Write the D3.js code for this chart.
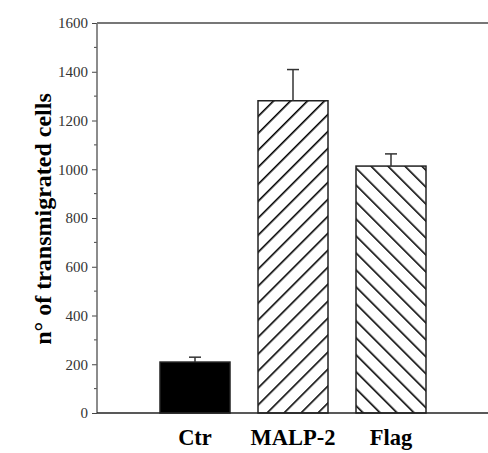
<!DOCTYPE html>
<html><head><meta charset="utf-8">
<script src="https://cdn.jsdelivr.net/npm/d3@7"></script>
<style>body{margin:0;background:#fff}svg{display:block}</style>
</head><body>
<script>
const categories = ["Ctr", "MALP-2", "Flag"];
const means = [209, 1281, 1013];
const errors = [20, 128, 50];
const fills = ["solid", "fwd", "back"];
const yTicks = [0, 200, 400, 600, 800, 1000, 1200, 1400, 1600];
const yTitle = "n° of transmigrated cells";

const W = 488, H = 453;
const svg = d3.select("body").append("svg").attr("width", W).attr("height", H);
const defs = svg.append("defs");
function hatch(id, dir) {
  const p = defs.append("pattern").attr("id", id).attr("patternUnits", "userSpaceOnUse")
    .attr("width", 12).attr("height", 12)
    .attr("patternTransform", `rotate(${dir > 0 ? 45 : -45})`);
  p.append("rect").attr("width", 12).attr("height", 12).attr("fill", "#fff");
  p.append("line").attr("x1", 0).attr("y1", 0).attr("x2", 0).attr("y2", 12)
    .attr("stroke", "#000").attr("stroke-width", 3.2);
}
hatch("fwd", 1);
hatch("back", -1);

const x0 = 97, x1 = 489, yTop = 23, yBot = 413;
const x = d3.scaleLinear().domain([0, 4]).range([x0, x1]);
const y = d3.scaleLinear().domain([0, 1600]).range([yBot, yTop]);
const barW = 70;

// axis
const ax = svg.append("g").attr("transform", `translate(${x0},0)`)
  .call(d3.axisLeft(y).tickValues(yTicks).tickSize(5).tickPadding(4).tickFormat(d3.format("d")));
ax.attr("font-family", null).attr("font-size", null);
ax.select(".domain").remove();
ax.selectAll(".tick line").attr("stroke", "#444");
ax.selectAll(".tick text").style("font-family", "'Liberation Serif', serif").style("font-size", "15px").attr("fill", "#333");
const minor = d3.range(100, 1600, 200);
svg.append("g").selectAll("line").data(minor).join("line")
  .attr("x1", x0 - 3).attr("x2", x0).attr("y1", d => y(d)).attr("y2", d => y(d))
  .attr("stroke", "#444");

svg.append("line").attr("x1", x0).attr("x2", x0).attr("y1", yTop).attr("y2", yBot)
  .attr("stroke", "#666").attr("stroke-width", 1.5);
svg.append("line").attr("x1", x0).attr("x2", W).attr("y1", yTop).attr("y2", yTop)
  .attr("stroke", "#777").attr("stroke-width", 2);

// bars
const idx = d3.range(categories.length);
svg.append("g").selectAll("rect").data(idx).join("rect")
  .attr("x", i => x(i + 1) - barW / 2).attr("width", barW)
  .attr("y", i => y(means[i])).attr("height", i => y(0) - y(means[i]))
  .attr("fill", i => fills[i] === "solid" ? "#000" : `url(#${fills[i]})`)
  .attr("stroke", "#222").attr("stroke-width", 1.5);

// error bars
const eg = svg.append("g").attr("stroke", "#333").attr("stroke-width", 1.5);
eg.selectAll(".v").data(idx).join("line").attr("class", "v")
  .attr("x1", i => x(i + 1)).attr("x2", i => x(i + 1))
  .attr("y1", i => y(means[i])).attr("y2", i => y(means[i] + errors[i]));
eg.selectAll(".c").data(idx).join("line").attr("class", "c")
  .attr("x1", i => x(i + 1) - 6).attr("x2", i => x(i + 1) + 6)
  .attr("y1", i => y(means[i] + errors[i])).attr("y2", i => y(means[i] + errors[i]));

// baseline
svg.append("line").attr("x1", x0).attr("x2", W).attr("y1", yBot).attr("y2", yBot)
  .attr("stroke", "#222").attr("stroke-width", 1.5);

// category labels
svg.append("g").selectAll("text").data(idx).join("text")
  .attr("x", i => x(i + 1)).attr("y", 445).attr("text-anchor", "middle")
  .style("font-family", "'Liberation Serif', serif").attr("font-weight", "bold").style("font-size", "22.5px")
  .text(i => categories[i]);

// y title
svg.append("text").attr("transform", `translate(51,219) rotate(-90)`)
  .attr("text-anchor", "middle").style("font-family", "'Liberation Serif', serif")
  .attr("font-weight", "bold").style("font-size", "24px").text(yTitle);
</script>
</body></html>
